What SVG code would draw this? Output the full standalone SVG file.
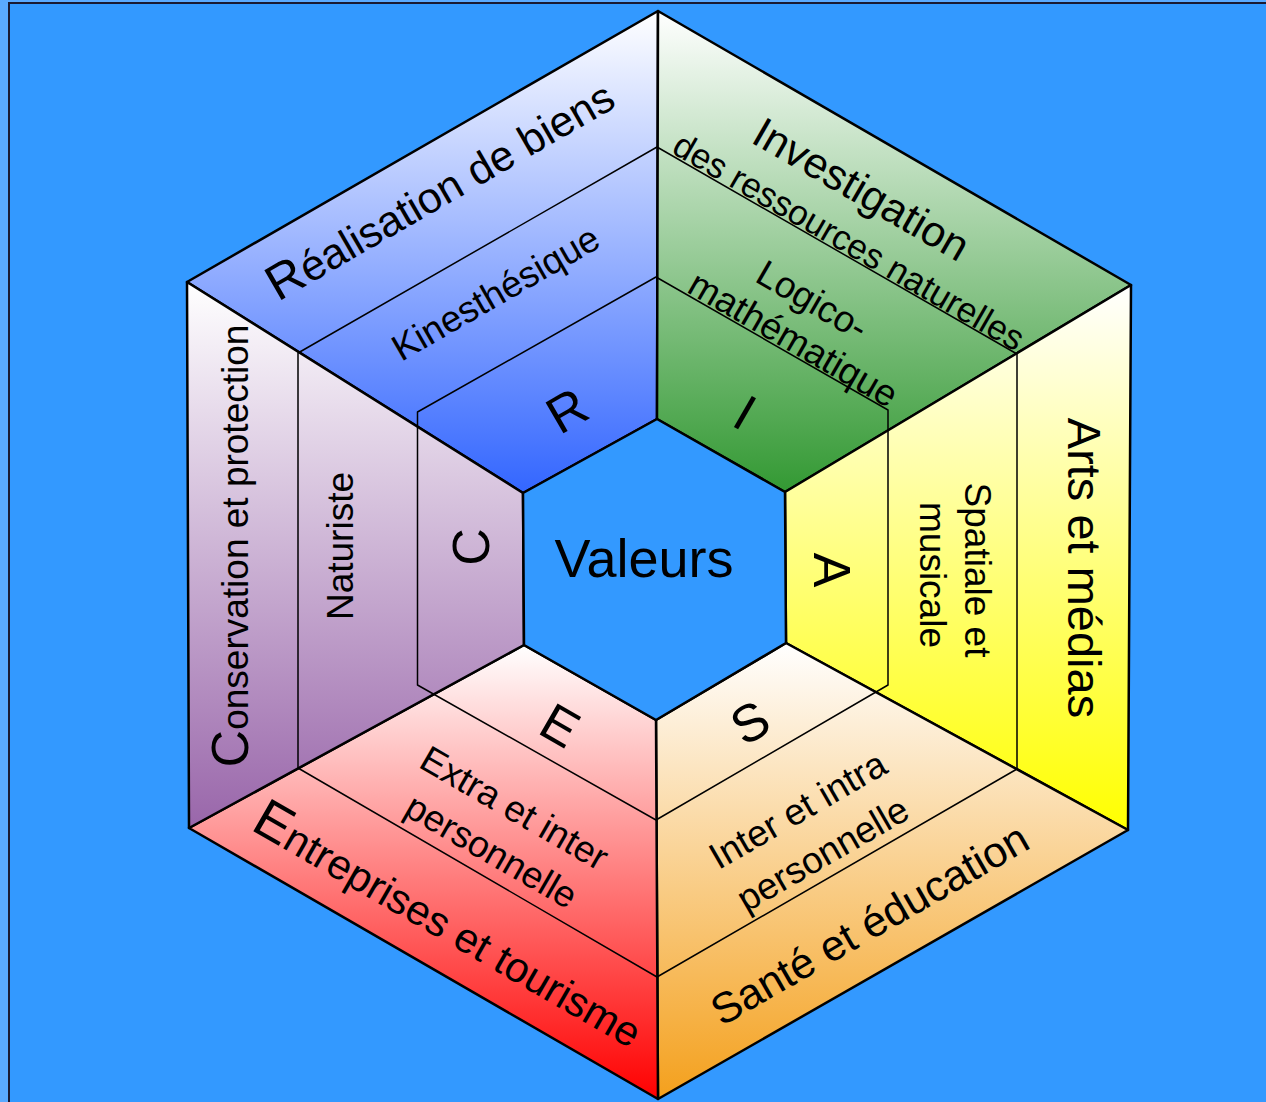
<svg xmlns="http://www.w3.org/2000/svg" width="1266" height="1102" viewBox="0 0 1266 1102">
<defs>
<linearGradient id="gR" gradientUnits="userSpaceOnUse" x1="0" y1="11" x2="0" y2="493"><stop offset="0" stop-color="#ffffff"/><stop offset="1" stop-color="#3366ff"/></linearGradient>
<linearGradient id="gI" gradientUnits="userSpaceOnUse" x1="0" y1="11" x2="0" y2="492"><stop offset="0" stop-color="#ffffff"/><stop offset="1" stop-color="#339933"/></linearGradient>
<linearGradient id="gA" gradientUnits="userSpaceOnUse" x1="0" y1="285" x2="0" y2="830"><stop offset="0" stop-color="#ffffff"/><stop offset="1" stop-color="#ffff00"/></linearGradient>
<linearGradient id="gS" gradientUnits="userSpaceOnUse" x1="0" y1="643" x2="0" y2="1099"><stop offset="0" stop-color="#ffffff"/><stop offset="1" stop-color="#f4a01c"/></linearGradient>
<linearGradient id="gE" gradientUnits="userSpaceOnUse" x1="0" y1="645" x2="0" y2="1099"><stop offset="0" stop-color="#ffffff"/><stop offset="1" stop-color="#ff0000"/></linearGradient>
<linearGradient id="gC" gradientUnits="userSpaceOnUse" x1="0" y1="282" x2="0" y2="828"><stop offset="0" stop-color="#ffffff"/><stop offset="1" stop-color="#9966aa"/></linearGradient>
</defs>
<style>
.sec{stroke:#000;stroke-width:2.5;stroke-linejoin:round}
.thin{fill:none;stroke:#000;stroke-width:1.5;stroke-linejoin:round}
text{font-family:'Liberation Sans',Arial,sans-serif;fill:#000;text-anchor:middle}
.dom{font-size:43px}
.int{font-size:37px}
.let{font-size:52px}
</style>
<rect x="0" y="0" width="1266" height="1102" fill="#5aaaff"/>
<rect x="9" y="3" width="1300" height="1200" fill="#3399ff" stroke="#1a1a33" stroke-width="2"/>

<g id="sector-R">
<polygon class="sec" fill="url(#gR)" points="187,282 658,11 657,419 523,493"/>
</g>
<g id="sector-I">
<polygon class="sec" fill="url(#gI)" points="658,11 1131,285 785,492 657,419"/>
</g>
<g id="sector-A">
<polygon class="sec" fill="url(#gA)" points="1131,285 1128,830 786,643 785,492"/>
</g>
<g id="sector-S">
<polygon class="sec" fill="url(#gS)" points="1128,830 658,1099 656,720 786,643"/>
</g>
<g id="sector-E">
<polygon class="sec" fill="url(#gE)" points="658,1099 189,828 524,645 656,720"/>
</g>
<g id="sector-C">
<polygon class="sec" fill="url(#gC)" points="189,828 187,282 523,493 524,645"/>
</g>
<g id="center-valeurs">
<polygon class="sec" fill="#3399ff" points="657,419 785,492 786,643 656,720 524,645 523,493"/>
<text x="644" y="577" style="font-size:54px">Valeurs</text>
</g>

<g id="connectors">
<polygon class="thin" points="298,353 657,147 1017,354 1017,769 657,977 298,768"/>
<polygon class="thin" points="417.5,412 656,277 888,410 888,685 656,820 417.5,685"/>
</g>

<g id="labels-R">
<text class="dom" transform="translate(448,204) rotate(-30)"><tspan style="font-size:50px">R</tspan>éalisation de biens</text>
<text class="int" transform="translate(502,304) rotate(-30)">Kinesthésique</text>
<text class="let" transform="translate(576,426) rotate(-30)">R</text>
</g>
<g id="labels-I">
<text class="dom" transform="translate(854,202) rotate(30)">Investigation</text>
<text class="int" style="font-size:35px" transform="translate(843,252) rotate(30)">des ressources naturelles</text>
<text class="int" transform="translate(806,311) rotate(30)">Logico-</text>
<text class="int" transform="translate(787,350) rotate(30)">mathématique</text>
<text class="let" transform="translate(736,428) rotate(30)">I</text>
</g>
<g id="labels-A">
<text class="dom" style="font-size:47px" transform="translate(1068,568) rotate(90)">Arts et médias</text>
<text class="int" transform="translate(965,570) rotate(90)">Spatiale et</text>
<text class="int" transform="translate(920,575) rotate(90)">musicale</text>
<text class="let" transform="translate(814,570) rotate(90)">A</text>
</g>
<g id="labels-S">
<text class="dom" transform="translate(877,937) rotate(-30)">Santé et éducation</text>
<text class="int" transform="translate(804,821) rotate(-30)">Inter et intra</text>
<text class="int" transform="translate(829,865) rotate(-30)">personnelle</text>
<text class="let" transform="translate(759,738) rotate(-30)">S</text>
</g>
<g id="labels-E">
<text class="dom" style="font-size:42px" transform="translate(440,939) rotate(30)"><tspan style="font-size:54px">E</tspan>ntreprises et tourisme</text>
<text class="int" transform="translate(508,819) rotate(30)">Extra et inter</text>
<text class="int" transform="translate(485,862) rotate(30)">personnelle</text>
<text class="let" transform="translate(551,741) rotate(30)">E</text>
</g>
<g id="labels-C">
<text class="dom" style="font-size:37px" transform="translate(248,546) rotate(-90)"><tspan style="font-size:52px">C</tspan>onservation et protection</text>
<text class="int" transform="translate(353,546) rotate(-90)">Naturiste</text>
<text class="let" transform="translate(489,547) rotate(-90)">C</text>
</g>
</svg>
